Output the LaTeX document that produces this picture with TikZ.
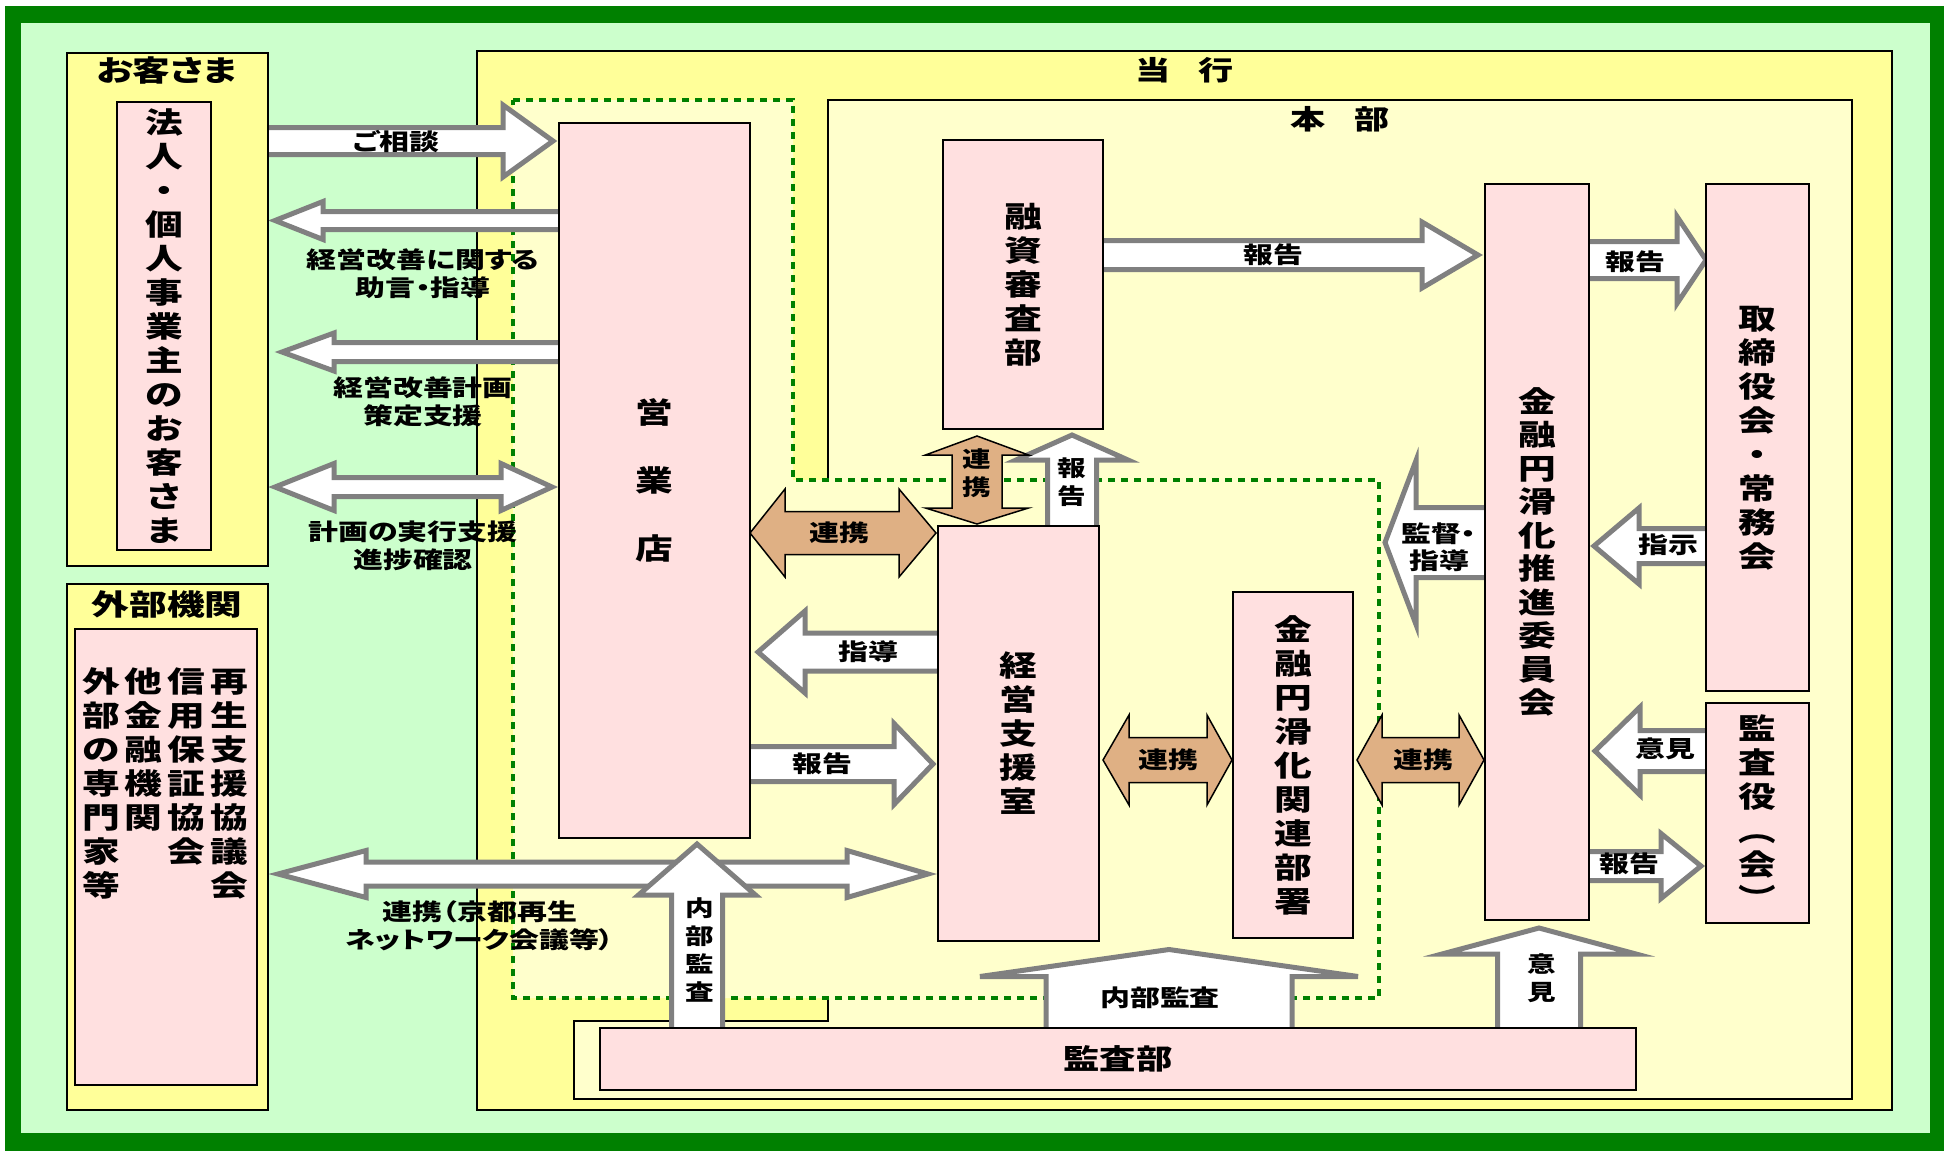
\documentclass[tikz,border=0pt]{standalone}
\usepackage{fontspec}
\newfontfamily\jp{Noto Sans CJK JP}[FakeStretch=1.3,RawFeature=+palt]
\usetikzlibrary{calc}
\definecolor{dgreen}{HTML}{008000}
\definecolor{lgreen}{HTML}{CCFFCC}
\definecolor{yel}{HTML}{FFFF99}
\definecolor{lyel}{HTML}{FFFFCC}
\definecolor{pinkc}{HTML}{FFE0E0}
\definecolor{grayc}{HTML}{808080}
\definecolor{orangec}{HTML}{DFB084}
\newcommand\boxfont{\jp\bfseries\fontsize{29}{34}\selectfont}
\newcommand\titfont{\jp\bfseries\fontsize{27}{32}\selectfont}
\newcommand\lblfont{\jp\bfseries\fontsize{23}{28}\selectfont}
\newcommand\vlblfont{\jp\bfseries\fontsize{22}{28}\selectfont}
\newcommand\zs{\vrule width 0pt height 0.88em depth 0.12em\relax}
\pgfdeclarelayer{bg}
\pgfdeclarelayer{arr}
\pgfsetlayers{bg,arr,main}
\tikzset{
  pics/sarrow/.style args={#1/#2/#3/#4}{code={%
    \path[pic actions] (0,#2) -- ({#1-#4},#2) -- ({#1-#4},#3) -- (#1,0) -- ({#1-#4},-#3) -- ({#1-#4},-#2) -- (0,-#2) -- cycle;}},
  pics/darrow/.style args={#1/#2/#3/#4/#5}{code={%
    \path[pic actions] (0,0) -- (#4,#3) -- (#4,#2) -- ({#1-#5},#2) -- ({#1-#5},#3) -- (#1,0) -- ({#1-#5},-#3) -- ({#1-#5},-#2) -- (#4,-#2) -- (#4,-#3) -- cycle;}},
}
\begin{document}
\begin{tikzpicture}[x=1pt,y=-1pt,
  every node/.style={inner sep=0pt, outer sep=0pt},
  frame/.style={draw=black, line width=2pt},
  pinkbox/.style={draw=black, line width=2pt, fill=pinkc, align=center, font=\boxfont},
  boxtxt/.style={align=center, font=\boxfont},
  garrow/.style={draw=grayc, fill=white, line width=5pt, line join=miter},
  oarrow/.style={draw=black, fill=orangec, line width=1.5pt, line join=miter},
  lbl/.style={font=\lblfont, align=center},
  vlbl/.style={font=\vlblfont, align=center},
]
\useasboundingbox (0,0) rectangle (1944,1151);
\begin{pgfonlayer}{bg}
  \fill[white] (0,0) rectangle (1944,1151);
  \fill[dgreen] (5,6) rectangle (1944,1151);
  \fill[lgreen] (21,23) rectangle (1930,1133);
  \draw[frame, fill=yel] (477,51) rectangle (1892,1110);
  % head office (L-shaped, including the audit strip)
  \draw[frame, fill=lyel, line join=miter] (828,100) -- (1852,100) -- (1852,1099) -- (574,1099) -- (574,1021) -- (828,1021) -- cycle;
  \filldraw[fill=lyel, draw=dgreen, line width=3.5pt, dash pattern=on 7pt off 6pt]
    (513,100) -- (793,100) -- (793,480) -- (1379,480) -- (1379,998) -- (513,998) -- cycle;
\end{pgfonlayer}

% outer groups
\node[frame, fill=yel, minimum width=201pt, minimum height=513pt] (kyaku) at (167.5,309.5) {};
\node[frame, fill=yel, minimum width=201pt, minimum height=526pt] (gaibu) at (167.5,847) {};
\node[boxtxt] (kyakut) at (167,71) {お客さま};
\node[boxtxt] (gaibut) at (167,604) {外部機関};
\node[font=\titfont] (toko) at (1185,70) {当\hspace{28pt}行};
\node[font=\titfont] (honbu) at (1340,119) {本\hspace{29pt}部};

% pink boxes
\node[pinkbox, minimum width=94pt, minimum height=448pt] (kojin) at (164,326)
  {\zs 法\\人\\・\\個\\人\\事\\業\\主\\の\\お\\客\\さ\\ま\zs};
\node[pinkbox, minimum width=182pt, minimum height=456pt] (kikan) at (166,857) {};
\node[boxtxt] (k1) at (229,783.5) {\zs 再\\生\\支\\援\\協\\議\\会\zs};
\node[boxtxt] (k2) at (186,766.5) {\zs 信\\用\\保\\証\\協\\会\zs};
\node[boxtxt] (k3) at (143.5,749.5) {\zs 他\\金\\融\\機\\関\zs};
\node[boxtxt] (k4) at (101.5,783.5) {\zs 外\\部\\の\\専\\門\\家\\等\zs};
\node[pinkbox, minimum width=191pt, minimum height=715pt, font=\jp\bfseries\fontsize{29}{68}\selectfont] (tenpo) at (654.5,480.5) {\zs 営\\業\\店\zs};
\node[pinkbox, minimum width=160pt, minimum height=289pt] (yushi) at (1023,284.5) {\zs 融\\資\\審\\査\\部\zs};
\node[pinkbox, minimum width=161pt, minimum height=415pt] (keiei) at (1018.5,733.5) {\zs 経\\営\\支\\援\\室\zs};
\node[pinkbox, minimum width=120pt, minimum height=346pt] (kanren) at (1293,765) {\zs 金\\融\\円\\滑\\化\\関\\連\\部\\署\zs};
\node[pinkbox, minimum width=104pt, minimum height=736pt, font=\jp\bfseries\fontsize{29}{33.5}\selectfont] (iinkai) at (1537,552) {\zs 金\\融\\円\\滑\\化\\推\\進\\委\\員\\会\zs};
\node[pinkbox, minimum width=103pt, minimum height=507pt] (torishimari) at (1757.5,437.5) {\zs 取\\締\\役\\会\\・\\常\\務\\会\zs};
\node[pinkbox, minimum width=103pt, minimum height=220pt] (kansayaku) at (1757.5,813) {\zs 監\\査\\役\\︵\\会\\︶\zs};
\node[pinkbox, minimum width=1036pt, minimum height=62pt, font=\jp\bfseries\fontsize{28}{32}\selectfont] (kansabu) at (1118,1059) {監査部};

% block arrows
\begin{pgfonlayer}{arr}
  % customers
  \pic[garrow] (a1) at (262,141) {sarrow=291/13.5/36/50};
  \pic[garrow, rotate=180] (a2) at (565,220.5) {sarrow=290/9/19/48};
  \pic[garrow, rotate=180] (a3) at (565,352) {sarrow=283/9.5/19/52};
  \pic[garrow] (a4) at (275,487) {darrow=277/9.5/23.5/59/51};
  % external
  \pic[garrow] (a16) at (278,874) {darrow=650/12/23.5/88/81};
  % head office
  \pic[garrow] (a5) at (1098,255) {sarrow=380/14.5/33/56};
  \pic[garrow] (a6) at (1584,260) {sarrow=122/18.5/43.5/29};
  \pic[garrow, rotate=180] (a7) at (1711,546) {sarrow=117/17.5/38/45};
  \pic[garrow, rotate=180] (a8) at (1711,751) {sarrow=116/20.5/44/45};
  \pic[garrow] (a9) at (1584,866) {sarrow=117/14.5/32.5/40};
  \pic[garrow, rotate=180] (a10) at (1490,542.5) {sarrow=105/35/82/31};
  \pic[garrow, rotate=90] (a13) at (1072,531) {sarrow=96/24.5/56/25};
  \pic[garrow, rotate=180] (a14) at (943,652) {sarrow=185/19/41/47};
  \pic[garrow] (a15) at (745,764) {sarrow=188/17.5/40.5/39};
  % audit
  \pic[garrow, rotate=90] (a17) at (697,1033) {sarrow=189/25.5/58.5/51};
  \pic[garrow, rotate=90] (a18) at (1169,1033) {sarrow=83.5/123/189/27};
  \pic[garrow, rotate=90] (a19) at (1539,1033) {sarrow=105/41.5/97/26};
  % cooperation (orange)
  \pic[oarrow] (o11) at (750,533) {darrow=186/21.5/44/35/37};
  \pic[oarrow, rotate=-90] (o12) at (977,436) {darrow=88/25/51.5/19/16};
  \pic[oarrow] (o20) at (1103,760) {darrow=129/22.5/45/26/25};
  \pic[oarrow] (o21) at (1357,760) {darrow=127/22.5/45/25/25};
\end{pgfonlayer}

% labels
\node[lbl] (l1) at (396,142) {ご相談};
\node[lbl] (l2) at (423,274) {経営改善に関する\\助言・指導};
\node[lbl] (l3) at (423,402) {経営改善計画\\策定支援};
\node[lbl] (l4) at (413,546) {計画の実行支援\\進捗確認};
\node[lbl] (l5) at (480,926) {連携（京都再生\\ネットワーク会議等）};
\node[lbl] (l6) at (1273,255) {報告};
\node[lbl] (l7) at (1635,262) {報告};
\node[lbl] (l8) at (1668,545) {指示};
\node[lbl, font=\jp\bfseries\fontsize{23}{27}\selectfont] (l9) at (1439,547) {監督・\\指導};
\node[lbl] (l10) at (1665,749) {意見};
\node[lbl] (l11) at (1629,864) {報告};
\node[lbl] (l12) at (839,533) {連携};
\node[vlbl] (l13) at (977,473) {連\\携};
\node[vlbl] (l14) at (1072,482) {報\\告};
\node[lbl] (l15) at (868,652) {指導};
\node[lbl] (l16) at (822,764) {報告};
\node[vlbl] (l17) at (700,950) {内\\部\\監\\査};
\node[lbl] (l18) at (1160,998) {内部監査};
\node[vlbl] (l19) at (1542,978) {意\\見};
\node[lbl] (l20) at (1168,760) {連携};
\node[lbl] (l21) at (1423,760) {連携};
\end{tikzpicture}
\end{document}
